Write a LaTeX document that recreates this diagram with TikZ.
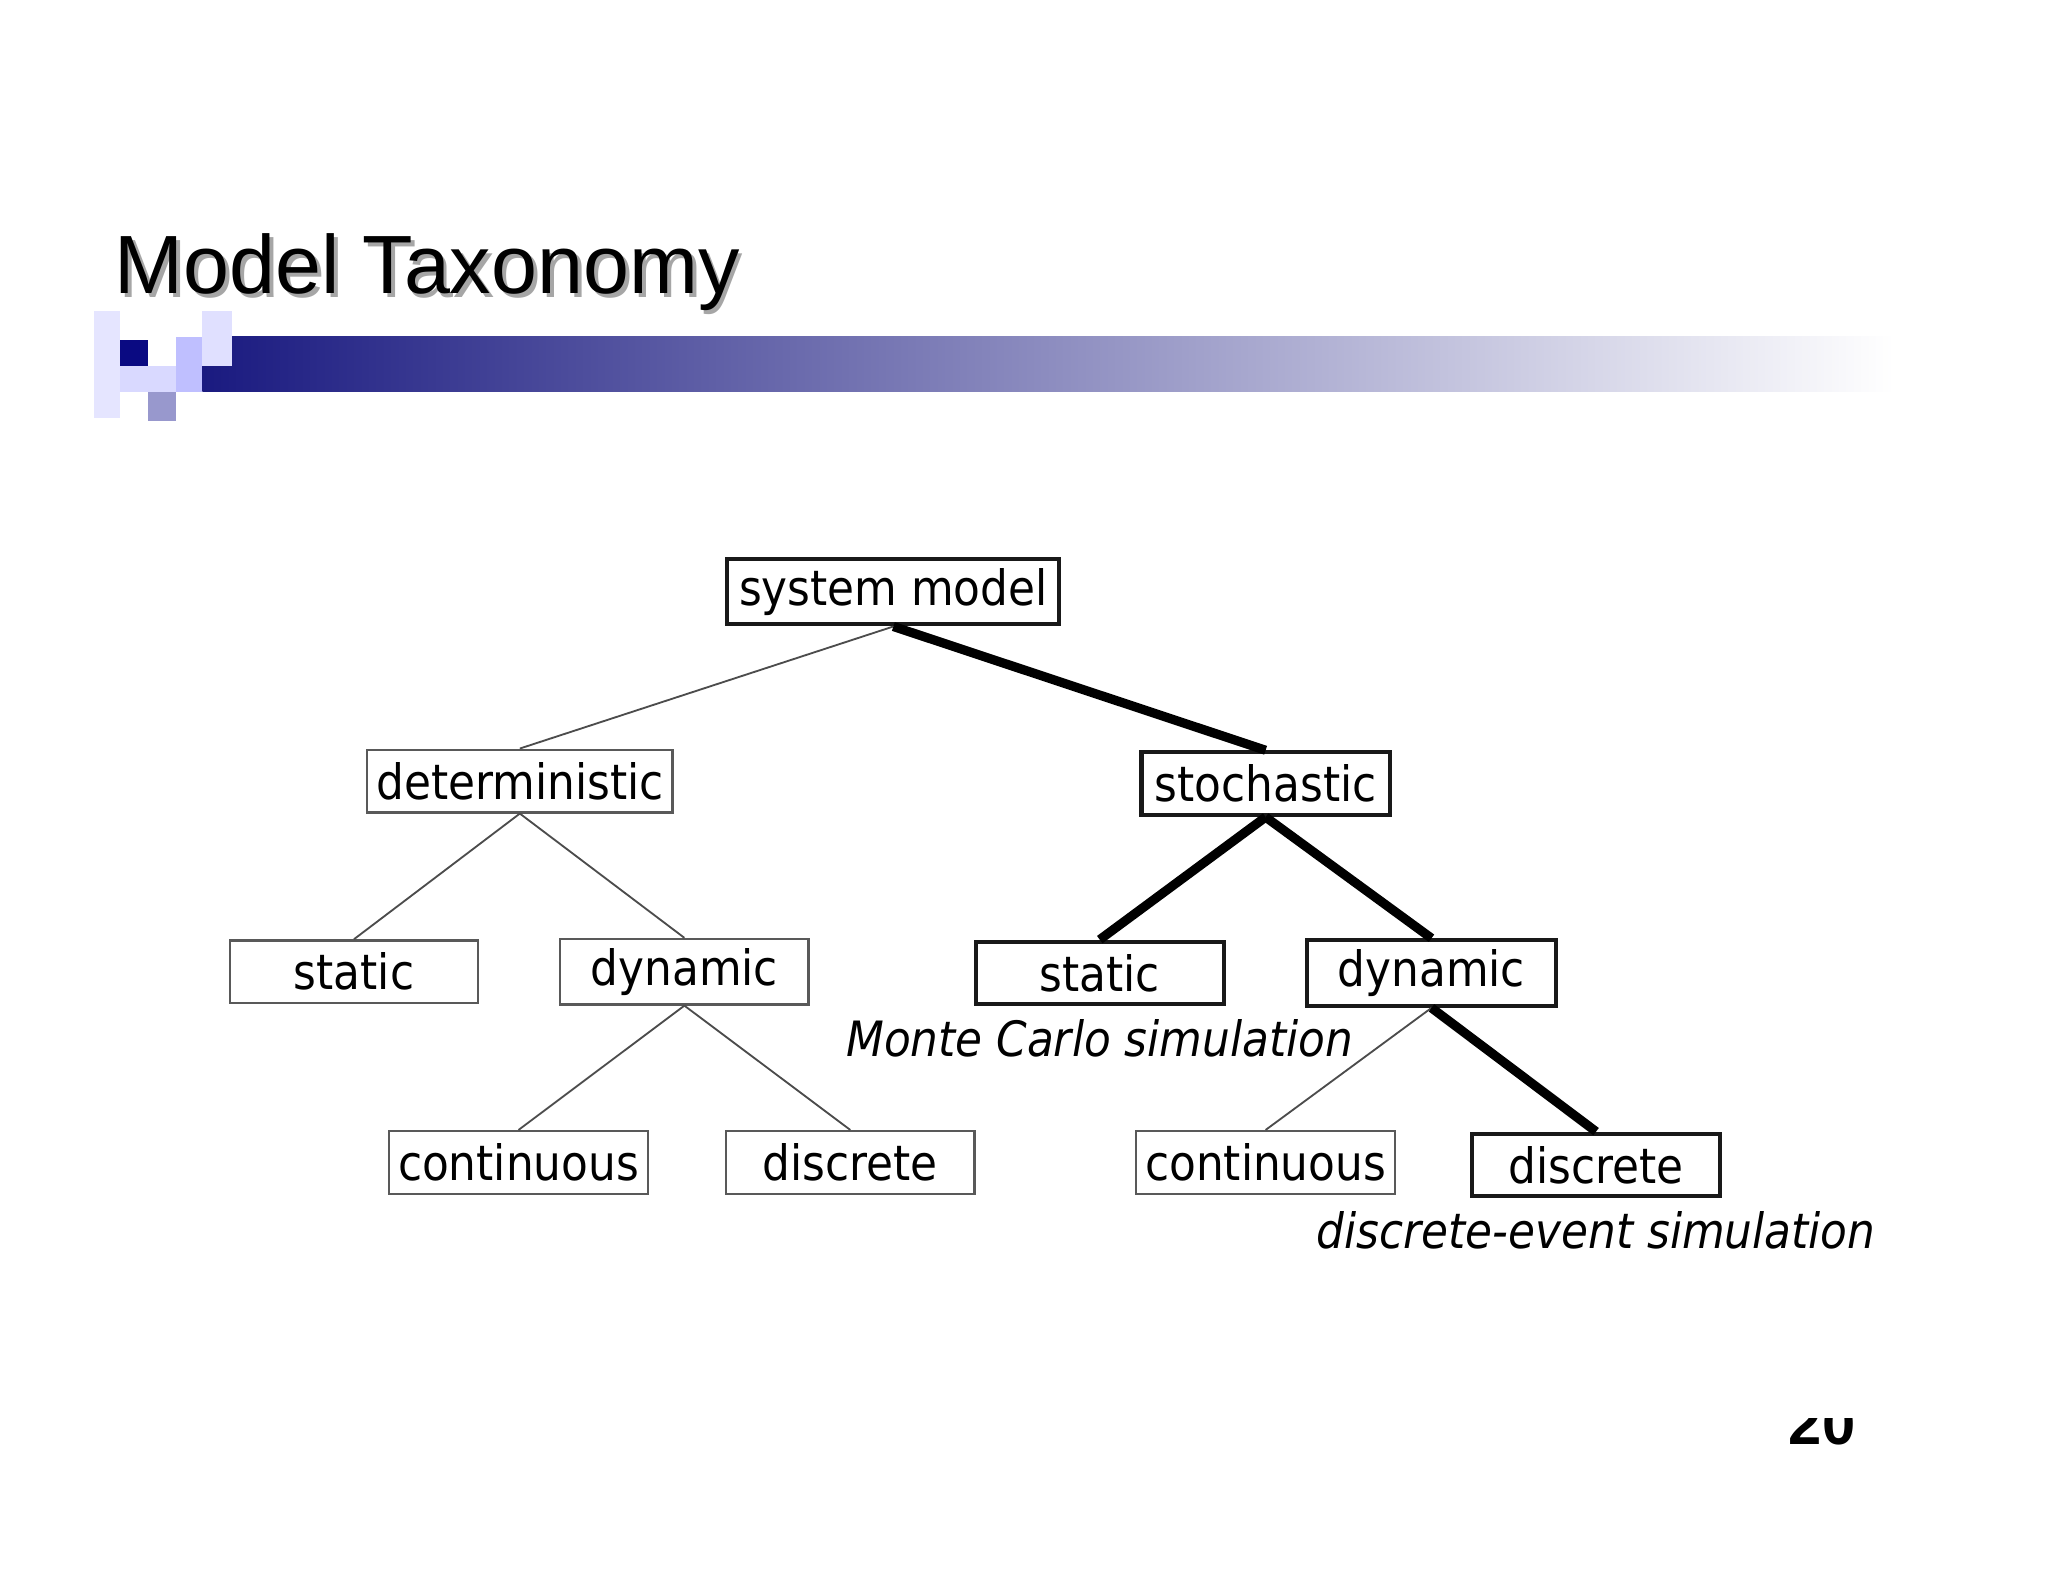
\documentclass[tikz,border=0pt]{standalone}
\usepackage{fontspec}
\setmainfont{DejaVu Sans Condensed}
\newfontfamily\titlefont{Liberation Sans}
\definecolor{navy}{RGB}{26,26,128}
\definecolor{darknavy}{RGB}{10,10,130}
\begin{document}
\begin{tikzpicture}[x=0.01cm,y=-0.01cm,
    box/.style={draw=black!65,line width=0.5pt,
      minimum width=1.9cm,minimum height=0.48cm,inner sep=2pt,font=\fontsize{10.6}{12}\selectfont},
    hot/.style={box,draw=black!90,line width=0.9pt},
    thin/.style={draw=black!70,line width=0.4pt},
    thick/.style={draw=black,line width=2pt},
    note/.style={font=\fontsize{10.6}{12}\selectfont\itshape}]
  \useasboundingbox (0,0) rectangle (1568,1212);

  % Title and banner
  \node[anchor=base west,font=\titlefont\fontsize{18}{20}\selectfont,text=black!35,inner sep=0pt] at (90,228) {Model Taxonomy};
  \node[anchor=base west,font=\titlefont\fontsize{18}{20}\selectfont,inner sep=0pt] (title) at (87,225) {Model Taxonomy};
  \shade[left color=navy,right color=white] (155,258) rectangle (1450,300);
  \fill[blue!10!white] (72,238) rectangle (92,320);
  \fill[blue!15!white] (92,280) rectangle (135,300);
  \fill[blue!25!white] (135,258) rectangle (155,300);
  \fill[blue!12!white] (155,238) rectangle (178,280);
  \fill[blue!35!gray!60] (113,300) rectangle (135,322);
  \fill[darknavy] (92,260) rectangle (113,280);

  % The tree
  \node[hot,minimum width=2.54cm] (sys) at (684,453) {system model};
  \node[box,minimum width=2.22cm] (det) at (398,598) {deterministic};
  \node[hot] (sto) at (969,600) {stochastic};
  \node[box] (dstat) at (271,744) {static};
  \node[box] (ddyn) at (524,744) {dynamic};
  \node[hot] (sstat) at (842,745) {static};
  \node[hot] (sdyn) at (1096,745) {dynamic};
  \node[box] (dcont) at (397,890) {continuous};
  \node[box] (ddisc) at (651,890) {discrete};
  \node[box] (scont) at (969,890) {continuous};
  \node[hot] (sdisc) at (1222,892) {discrete};

  \node[note] (mc) at (842,795) {Monte Carlo simulation};
  \node[note] (des) at (1222,942) {discrete-event simulation};

  % The lines
  \draw[thin] (sys.south) -- (det.north);
  \draw[thin] (det.south) -- (dstat.north);
  \draw[thin] (det.south) -- (ddyn.north);
  \draw[thin] (ddyn.south) -- (dcont.north);
  \draw[thin] (ddyn.south) -- (ddisc.north);
  \draw[thin] (sdyn.south) -- (scont.north);
  \draw[thick] (sys.south) -- (sto.north);
  \draw[thick] (sto.south) -- (sstat.north);
  \draw[thick] (sto.south) -- (sdyn.north);
  \draw[thick] (sdyn.south) -- (sdisc.north);

  % Page number, cut off
  \begin{scope}
    \clip (1360,1086) rectangle (1430,1120);
    \node[font=\titlefont\bfseries\fontsize{13}{14}\selectfont] (page) at (1395,1090) {20};
  \end{scope}
\end{tikzpicture}
\end{document}
